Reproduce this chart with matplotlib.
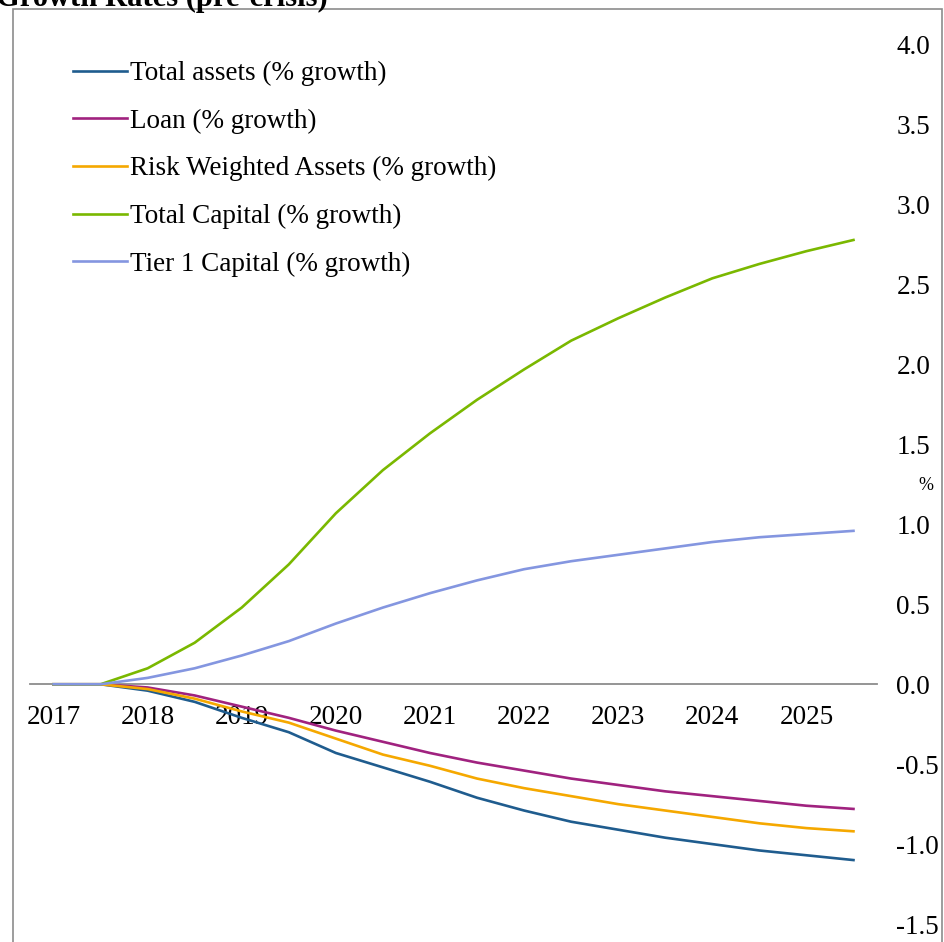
import matplotlib
matplotlib.use("Agg")
import matplotlib.pyplot as plt
from matplotlib.patches import Rectangle

plt.rcParams['font.family'] = ['Liberation Serif', 'DejaVu Serif']
plt.rcParams['axes.unicode_minus'] = False

# semi-annual periods 2017 .. 2025.5
periods = ["2017", "2017H2", "2018", "2018H2", "2019", "2019H2", "2020", "2020H2",
           "2021", "2021H2", "2022", "2022H2", "2023", "2023H2", "2024", "2024H2",
           "2025", "2025H2"]
year_labels = ["2017", "2018", "2019", "2020", "2021", "2022", "2023", "2024", "2025"]

total_assets = [0, 0, -0.04, -0.11, -0.21, -0.30, -0.43, -0.52, -0.61, -0.71,
                -0.79, -0.86, -0.91, -0.96, -1.00, -1.04, -1.07, -1.10]
loan = [0, 0, -0.02, -0.07, -0.14, -0.21, -0.29, -0.36, -0.43, -0.49,
        -0.54, -0.59, -0.63, -0.67, -0.70, -0.73, -0.76, -0.78]
rwa = [0, 0, -0.03, -0.09, -0.17, -0.24, -0.34, -0.44, -0.51, -0.59,
       -0.65, -0.70, -0.75, -0.79, -0.83, -0.87, -0.90, -0.92]
total_capital = [0, 0, 0.10, 0.26, 0.48, 0.75, 1.07, 1.34, 1.57, 1.78,
                 1.97, 2.15, 2.29, 2.42, 2.54, 2.63, 2.71, 2.78]
tier1 = [0, 0, 0.04, 0.10, 0.18, 0.27, 0.38, 0.48, 0.57, 0.65,
         0.72, 0.77, 0.81, 0.85, 0.89, 0.92, 0.94, 0.96]

series = [
    ("Total assets (% growth)", total_assets, "#1F5C8E"),
    ("Loan (% growth)", loan, "#A0227F"),
    ("Risk Weighted Assets (% growth)", rwa, "#F5A800"),
    ("Total Capital (% growth)", total_capital, "#7AB800"),
    ("Tier 1 Capital (% growth)", tier1, "#8496E0"),
]

W, H = 944, 942
fig = plt.figure(figsize=(W / 100, H / 100), dpi=100)

# chart frame
fig.patches.append(Rectangle((13 / W, -0.1), (942 - 13) / W, 1.1 - 9 / H,
                             transform=fig.transFigure, fill=False,
                             edgecolor="#8C8C8C", linewidth=1.2))
fig.text(-4 / W, 1 - 6 / H, "Growth Rates (pre-crisis)", fontsize=22,
         fontweight="bold", ha="left", va="baseline")

ax = fig.add_axes([30 / W, (H - 924) / H, (877 - 30) / W, (924 - 45) / H])
x = list(range(len(periods)))
for name, vals, col in series:
    ax.plot(x, vals, color=col, linewidth=1.9, label=name)

ax.set_xlim(-0.5, len(periods) - 0.5)
ax.set_ylim(-1.5, 4.0)
ax.set_facecolor("none")

for s in ["top", "left", "right"]:
    ax.spines[s].set_visible(False)
ax.spines["bottom"].set_position(("data", 0))
ax.spines["bottom"].set_color("#8C8C8C")
ax.spines["bottom"].set_linewidth(1.3)
ax.spines["bottom"].set_zorder(0)

ax.set_xticks(x[::2])
ax.set_xticklabels(year_labels)
ax.tick_params(axis="x", length=0, pad=15, labelsize=19.5)

ax.yaxis.tick_right()
yt = [-1.5, -1.0, -0.5, 0.0, 0.5, 1.0, 1.5, 2.0, 2.5, 3.0, 3.5, 4.0]
ax.set_yticks(yt)
ax.set_yticklabels([f"{v:.1f}" for v in yt])
ax.tick_params(axis="y", length=0, pad=14, labelsize=19.5)

fig.text(926 / W, 1 - 485 / H, "%", fontsize=13, ha="center", va="center")

leg = ax.legend(loc="upper left", bbox_to_anchor=(73 / W, 1 - 61 / H),
                bbox_transform=fig.transFigure, frameon=False, fontsize=19.5,
                handlelength=2.0, handletextpad=0.1, labelspacing=0.83,
                borderpad=0, borderaxespad=0)

fig.savefig("out.png", dpi=100)
